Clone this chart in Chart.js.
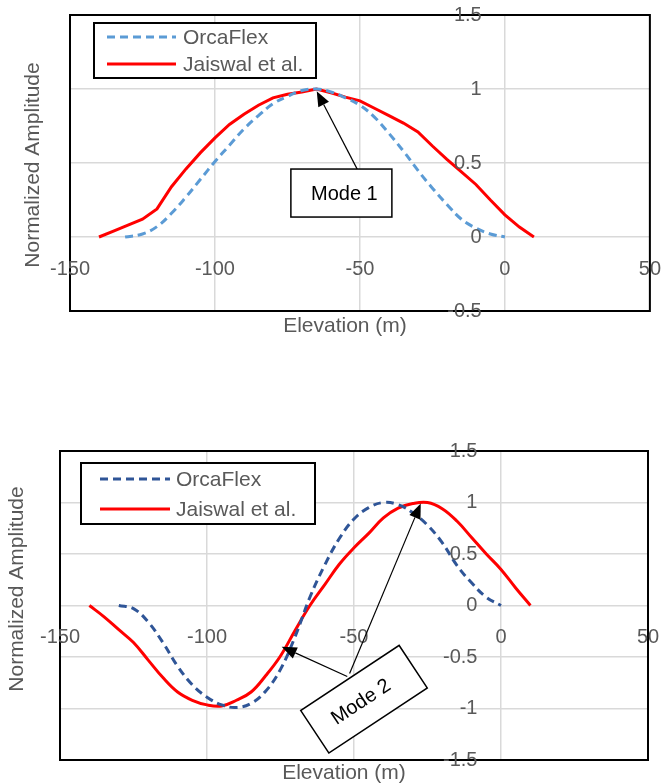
<!DOCTYPE html>
<html>
<head>
<meta charset="utf-8">
<script src="https://cdn.jsdelivr.net/npm/chart.js@4.4.1/dist/chart.umd.min.js"></script>
<style>
  html, body { margin: 0; padding: 0; background: #fff; }
  .wrap { position: absolute; left: 0; width: 661px; }
  #wrap1 { top: 0; height: 345px; }
  #wrap2 { top: 400px; height: 384px; }
</style>
</head>
<body>
<div class="wrap" id="wrap1"><canvas id="chart1"></canvas></div>
<div class="wrap" id="wrap2"><canvas id="chart2"></canvas></div>
<script>
// axis ticks
const xTicks = [-150, -100, -50, 0, 50];
const yTicksMode1 = [-0.5, 0, 0.5, 1, 1.5];
const yTicksMode2 = [-1.5, -1, -0.5, 0, 0.5, 1, 1.5];

// Mode 1
const mode1OrcaElev = [-131, -125, -120, -115, -110, -105, -100, -95, -90, -85, -80, -75, -70, -65, -60, -55, -50, -45, -40, -35, -30, -25, -20, -15, -10, -5, 0];
const mode1OrcaAmp = [0, 0.02, 0.07, 0.16, 0.27, 0.39, 0.51, 0.62, 0.73, 0.82, 0.90, 0.95, 0.99, 1.0, 0.98, 0.94, 0.89, 0.81, 0.70, 0.58, 0.45, 0.33, 0.22, 0.12, 0.06, 0.02, 0];
const mode1JaisElev = [-140, -135, -130, -125, -120, -115, -110, -105, -100, -95, -90, -85, -80, -75, -70, -65, -60, -55, -50, -45, -40, -35, -30, -25, -20, -15, -10, -5, 0, 5, 10];
const mode1JaisAmp = [0, 0.04, 0.08, 0.12, 0.19, 0.34, 0.46, 0.57, 0.67, 0.76, 0.83, 0.89, 0.94, 0.965, 0.98, 1.0, 0.975, 0.945, 0.92, 0.87, 0.82, 0.77, 0.71, 0.615, 0.525, 0.44, 0.355, 0.25, 0.15, 0.067, 0];

// Mode 2
const mode2OrcaElev = [-130, -125, -120, -115, -110, -105, -100, -95, -90, -85, -80, -75, -70, -65, -60, -55, -50, -45, -40, -35, -30, -25, -20, -15, -10, -5, 0];
const mode2OrcaAmp = [0, -0.03, -0.16, -0.36, -0.59, -0.77, -0.89, -0.965, -0.99, -0.95, -0.83, -0.62, -0.30, 0.08, 0.39, 0.65, 0.84, 0.95, 1.0, 0.98, 0.90, 0.78, 0.61, 0.39, 0.22, 0.08, 0];
const mode2JaisElev = [-140, -135, -130, -125, -120, -115, -110, -105, -100, -95, -90, -85, -80, -75, -70, -65, -60, -55, -50, -45, -40, -35, -30, -25, -20, -15, -10, -5, 0, 5, 10];
const mode2JaisAmp = [0, -0.11, -0.235, -0.36, -0.53, -0.70, -0.84, -0.92, -0.965, -0.975, -0.92, -0.84, -0.68, -0.49, -0.24, 0.0, 0.20, 0.40, 0.56, 0.70, 0.85, 0.945, 0.99, 1.0, 0.94, 0.82, 0.66, 0.50, 0.35, 0.17, 0];

const FONT = '"Liberation Sans", Arial, sans-serif';
const TEXT_GREY = '#595959';
const GRID = '#d9d9d9';

function pts(xs, ys) {
  return xs.map((x, i) => ({ x: x, y: ys[i] }));
}

function arrow(ctx, x1, y1, x2, y2) {
  const ang = Math.atan2(y2 - y1, x2 - x1);
  const len = 15, half = 6;
  const bx = x2 - len * Math.cos(ang), by = y2 - len * Math.sin(ang);
  ctx.beginPath();
  ctx.moveTo(x1, y1);
  ctx.lineTo(bx, by);
  ctx.lineWidth = 1.2;
  ctx.strokeStyle = '#000';
  ctx.stroke();
  ctx.beginPath();
  ctx.moveTo(x2, y2);
  ctx.lineTo(bx + half * Math.sin(ang), by - half * Math.cos(ang));
  ctx.lineTo(bx - half * Math.sin(ang), by + half * Math.cos(ang));
  ctx.closePath();
  ctx.fillStyle = '#000';
  ctx.fill();
}

// border, legend, axis titles and the mode call-out
const decor = {
  id: 'decor',
  afterDatasetsDraw(chart) {
    // plot border goes under the tick labels (ticks use z: 1)
    const a = chart.chartArea;
    const ctx = chart.ctx;
    ctx.save();
    ctx.strokeStyle = '#000';
    ctx.lineWidth = 2;
    ctx.strokeRect(a.left, a.top, a.right - a.left, a.bottom - a.top);
    ctx.restore();
  },
  afterDraw(chart, args, opts) {
    const ctx = chart.ctx;
    const sx = chart.scales.x, sy = chart.scales.y;
    ctx.save();

    // legend
    const lg = opts.legend;
    ctx.fillStyle = '#fff';
    ctx.fillRect(lg.x, lg.y, lg.w, lg.h);
    ctx.strokeStyle = '#000';
    ctx.lineWidth = 2;
    ctx.strokeRect(lg.x, lg.y, lg.w, lg.h);
    chart.data.datasets.forEach((ds, i) => {
      const y = lg.y + lg.rows[i];
      ctx.beginPath();
      ctx.setLineDash(ds.borderDash || []);
      ctx.strokeStyle = ds.borderColor;
      ctx.lineWidth = ds.borderWidth;
      ctx.moveTo(lg.x + lg.line[0], y);
      ctx.lineTo(lg.x + lg.line[1], y);
      ctx.stroke();
      ctx.setLineDash([]);
      ctx.fillStyle = TEXT_GREY;
      ctx.font = '21px ' + FONT;
      ctx.textAlign = 'left';
      ctx.textBaseline = 'middle';
      ctx.fillText(ds.label, lg.x + lg.textX, y + 1);
    });

    // axis titles
    ctx.fillStyle = TEXT_GREY;
    ctx.font = '21px ' + FONT;
    ctx.textAlign = 'center';
    ctx.textBaseline = 'middle';
    ctx.fillText('Elevation (m)', opts.xTitle[0], opts.xTitle[1]);
    ctx.save();
    ctx.translate(opts.yTitle[0], opts.yTitle[1]);
    ctx.rotate(-Math.PI / 2);
    ctx.fillText('Normalized Amplitude', 0, 0);
    ctx.restore();

    // call-out
    const c = opts.callout;
    c.arrows.forEach(ar => {
      arrow(ctx, sx.getPixelForValue(ar.from[0]), sy.getPixelForValue(ar.from[1]),
        sx.getPixelForValue(ar.to[0]), sy.getPixelForValue(ar.to[1]));
    });
    ctx.save();
    ctx.translate(sx.getPixelForValue(c.at[0]), sy.getPixelForValue(c.at[1]));
    ctx.rotate(c.angle * Math.PI / 180);
    ctx.fillStyle = '#fff';
    ctx.fillRect(-c.w / 2, -c.h / 2, c.w, c.h);
    ctx.strokeStyle = '#000';
    ctx.lineWidth = 1.5;
    ctx.strokeRect(-c.w / 2, -c.h / 2, c.w, c.h);
    ctx.fillStyle = '#000';
    ctx.font = '20px ' + FONT;
    ctx.textAlign = 'center';
    ctx.textBaseline = 'middle';
    ctx.fillText(c.text, c.dx || 0, 1);
    ctx.restore();

    ctx.restore();
  }
};

function makeChart(id, orca, jais, orcaColor, yTicks, yMin, yMax, padding, decorOpts) {
  return new Chart(document.getElementById(id), {
    type: 'scatter',
    data: {
      datasets: [
        {
          label: 'OrcaFlex',
          data: orca,
          showLine: true,
          borderColor: orcaColor,
          borderWidth: 3,
          borderDash: [8, 5],
          pointRadius: 0,
          tension: 0.4
        },
        {
          label: 'Jaiswal et al.',
          data: jais,
          showLine: true,
          borderColor: '#ff0000',
          borderWidth: 3,
          pointRadius: 0,
          tension: decorOpts.redTension
        }
      ]
    },
    options: {
      responsive: true,
      maintainAspectRatio: false,
      animation: false,
      layout: { padding: padding },
      plugins: {
        legend: { display: false },
        tooltip: { enabled: false },
        decor: decorOpts
      },
      scales: {
        x: {
          type: 'linear',
          min: -150,
          max: 50,
          position: { y: 0 },
          afterBuildTicks: s => { s.ticks = xTicks.map(v => ({ value: v })); },
          // invisible tick marks push the labels below the zero line
          grid: { color: GRID, lineWidth: 1.5, drawTicks: true, tickLength: 20, tickColor: 'rgba(0,0,0,0)' },
          border: { display: false },
          ticks: {
            z: 1,
            color: TEXT_GREY,
            font: { family: FONT, size: 20 },
            padding: 0,
            autoSkip: false,
            maxRotation: 0,
            callback: v => String(v)
          }
        },
        y: {
          type: 'linear',
          min: yMin,
          max: yMax,
          position: { x: -8 },
          afterBuildTicks: s => { s.ticks = yTicks.map(v => ({ value: v })); },
          grid: { color: GRID, lineWidth: 1.5, drawTicks: false },
          border: { display: false },
          ticks: {
            z: 1,
            color: TEXT_GREY,
            font: { family: FONT, size: 20 },
            padding: 0,
            autoSkip: false,
            callback: v => String(v)
          }
        }
      }
    },
    plugins: [decor]
  });
}

makeChart('chart1', pts(mode1OrcaElev, mode1OrcaAmp), pts(mode1JaisElev, mode1JaisAmp),
  '#5b9bd5', yTicksMode1, -0.5, 1.5,
  { left: 70, top: 15, right: 10, bottom: 34 },
  {
    redTension: 0,
    legend: { x: 94, y: 23, w: 222, h: 55, rows: [14, 41], line: [13, 82], textX: 89 },
    xTitle: [345, 326],
    yTitle: [33, 165],
    callout: {
      text: 'Mode 1', at: [-56.4, 0.297], w: 101, h: 48, angle: 0, dx: 3,
      arrows: [{ from: [-50.9, 0.457], to: [-64.9, 0.985] }]
    }
  });

makeChart('chart2', pts(mode2OrcaElev, mode2OrcaAmp), pts(mode2JaisElev, mode2JaisAmp),
  '#2f5597', yTicksMode2, -1.5, 1.5,
  { left: 60, top: 51, right: 13, bottom: 24 },
  {
    redTension: 0.4,
    legend: { x: 81, y: 63, w: 234, h: 61, rows: [16, 46], line: [19, 89], textX: 95 },
    xTitle: [344, 373],
    yTitle: [17, 189],
    callout: {
      text: 'Mode 2', at: [-46.6, -0.91], w: 118, h: 51, angle: -33.5, dx: -4,
      arrows: [
        { from: [-52.3, -0.69], to: [-74.6, -0.40] },
        { from: [-51.5, -0.66], to: [-27.3, 0.99] }
      ]
    }
  });
</script>
</body>
</html>
